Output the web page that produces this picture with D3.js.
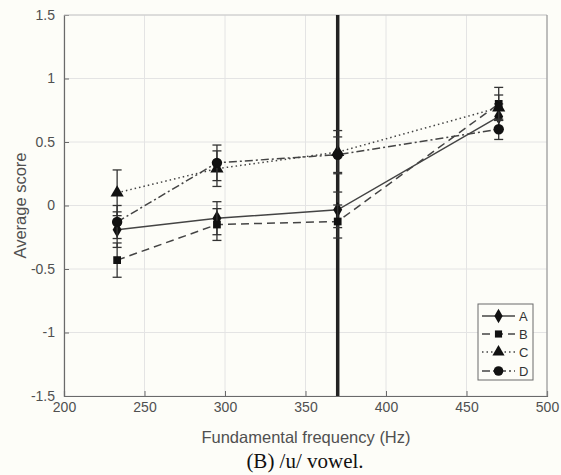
<!DOCTYPE html>
<html><head><meta charset="utf-8">
<script src="https://cdn.jsdelivr.net/npm/d3@7"></script>
<style>
html,body{margin:0;padding:0;background:#fdfdf8;}
svg{display:block;}
</style></head>
<body>
<svg id="chart" width="561" height="475"></svg>
<script>
// Data
const freqs = [233, 295, 370, 470];
const seriesNames = ["A", "B", "C", "D"];
const valuesA = [-0.19, -0.10, -0.034, 0.70];
const valuesB = [-0.43, -0.15, -0.126, 0.80];
const valuesC = [0.10, 0.29, 0.42, 0.77];
const valuesD = [-0.13, 0.336, 0.40, 0.60];
const errA = [0.14, 0.13, 0.14, 0.10];
const errB = [0.135, 0.125, 0.13, 0.13];
const errC = [0.18, 0.14, 0.17, 0.10];
const errD = [0.13, 0.14, 0.14, 0.08];
const xTicks = [200, 250, 300, 350, 400, 450, 500];
const yTicks = [-1.5, -1, -0.5, 0, 0.5, 1, 1.5];
const vLineFreq = 370;

const svg = d3.select("#chart");
const W = 561, H = 475;
svg.append("rect").attr("width", W).attr("height", H).attr("fill", "#fdfdf8");

const m = {l: 64, r: 547, t: 15, b: 396};
const x = d3.scaleLinear().domain([200, 500]).range([m.l, m.r]);
const y = d3.scaleLinear().domain([-1.5, 1.5]).range([m.b, m.t]);

const font = "'Liberation Sans', Arial, Helvetica, sans-serif";

// grid
const g = svg.append("g");
g.selectAll(".vg").data(xTicks).join("line")
  .attr("x1", d => x(d)).attr("x2", d => x(d)).attr("y1", m.t).attr("y2", m.b)
  .attr("stroke", "#e4e4e4").attr("stroke-width", 1);
g.selectAll(".hg").data(yTicks).join("line")
  .attr("y1", d => y(d)).attr("y2", d => y(d)).attr("x1", m.l).attr("x2", m.r)
  .attr("stroke", "#e4e4e4").attr("stroke-width", 1);

// axes (inward ticks)
const fmt = d => String(d);
const xAxis = d3.axisBottom(x).tickValues(xTicks).tickFormat(fmt).tickSize(-5).tickPadding(8);
const yAxis = d3.axisLeft(y).tickValues(yTicks).tickFormat(fmt).tickSize(-5).tickPadding(9);
const gx = svg.append("g").attr("transform", `translate(0,${m.b})`).call(xAxis);
const gy = svg.append("g").attr("transform", `translate(${m.l},0)`).call(yAxis);
[gx, gy].forEach(a => {
  a.select(".domain").attr("stroke", "#6a6a6a").attr("stroke-width", 1.2);
  a.selectAll(".tick line").attr("stroke", "#6a6a6a");
  a.selectAll(".tick text").attr("fill", "#505050").attr("font-family", font).attr("font-size", 14);
});
gx.selectAll(".tick text").attr("dy", "0.55em");
// top/right box edges
svg.append("line").attr("x1", m.l).attr("x2", m.r).attr("y1", m.t).attr("y2", m.t).attr("stroke", "#c8c8c8");
svg.append("line").attr("x1", m.r).attr("x2", m.r).attr("y1", m.t).attr("y2", m.b).attr("stroke", "#8a8a8a");

// labels
svg.append("text").attr("x", 306).attr("y", 443).attr("text-anchor", "middle")
  .attr("font-family", font).attr("font-size", 16.5).attr("fill", "#505050").text("Fundamental frequency (Hz)");
svg.append("text").attr("transform", `translate(26,${(m.t + m.b) / 2}) rotate(-90)`).attr("text-anchor", "middle")
  .attr("font-family", font).attr("font-size", 16.5).attr("fill", "#505050").text("Average score");
svg.append("text").attr("x", 305).attr("y", 468).attr("text-anchor", "middle")
  .attr("font-family", "'Liberation Serif', 'Times New Roman', serif").attr("font-size", 21).attr("fill", "#111").text("(B) /u/ vowel.");

// series
const series = [
  {name: "A", vals: valuesA, err: errA, dash: null, sym: d3.symbolDiamond, size: 70},
  {name: "B", vals: valuesB, err: errB, dash: "8,5", sym: d3.symbolSquare, size: 60},
  {name: "C", vals: valuesC, err: errC, dash: "1.5,3", sym: d3.symbolTriangle, size: 75},
  {name: "D", vals: valuesD, err: errD, dash: "8,3,2,3", sym: d3.symbolCircle, size: 85},
];
const lineGen = d3.line().x(d => x(d[0])).y(d => y(d[1]));
const lineColor = "#444";

series.forEach(s => {
  const pts = freqs.map((f, i) => [f, s.vals[i]]);
  svg.append("path").attr("d", lineGen(pts)).attr("fill", "none")
    .attr("stroke", lineColor).attr("stroke-width", 1.5)
    .attr("stroke-dasharray", s.dash);
});

// vertical thick line
svg.append("line").attr("x1", x(vLineFreq)).attr("x2", x(vLineFreq)).attr("y1", m.t).attr("y2", m.b)
  .attr("stroke", "#222").attr("stroke-width", 3.5);

// error bars & markers
series.forEach(s => {
  const eg = svg.append("g").attr("stroke", "#333").attr("stroke-width", 1.3);
  freqs.forEach((f, i) => {
    const cx = x(f), lo = y(s.vals[i] - s.err[i]), hi = y(s.vals[i] + s.err[i]);
    eg.append("line").attr("x1", cx).attr("x2", cx).attr("y1", lo).attr("y2", hi);
    eg.append("line").attr("x1", cx - 4.5).attr("x2", cx + 4.5).attr("y1", lo).attr("y2", lo);
    eg.append("line").attr("x1", cx - 4.5).attr("x2", cx + 4.5).attr("y1", hi).attr("y2", hi);
  });
  svg.append("g").selectAll("path").data(freqs).join("path")
    .attr("transform", (f, i) => `translate(${x(f)},${y(s.vals[i])})`)
    .attr("d", d3.symbol().type(s.sym).size(s.size))
    .attr("fill", "#111");
});

// legend
const lg = svg.append("g");
lg.append("rect").attr("x", 478).attr("y", 304).attr("width", 55).attr("height", 76)
  .attr("fill", "#fdfdf8").attr("stroke", "#6a6a6a").attr("stroke-width", 1);
const legY = [316, 334, 352, 371];
series.forEach((s, i) => {
  lg.append("line").attr("x1", 482).attr("x2", 515).attr("y1", legY[i]).attr("y2", legY[i])
    .attr("stroke", lineColor).attr("stroke-width", 1.5).attr("stroke-dasharray", s.dash);
  lg.append("path").attr("transform", `translate(498.5,${legY[i]})`)
    .attr("d", d3.symbol().type(s.sym).size(s.size * 0.85)).attr("fill", "#111");
  lg.append("text").attr("x", 519).attr("y", legY[i]).attr("dy", "0.36em")
    .attr("font-family", font).attr("font-size", 13).attr("fill", "#333").text(s.name);
});
</script>
</body></html>
